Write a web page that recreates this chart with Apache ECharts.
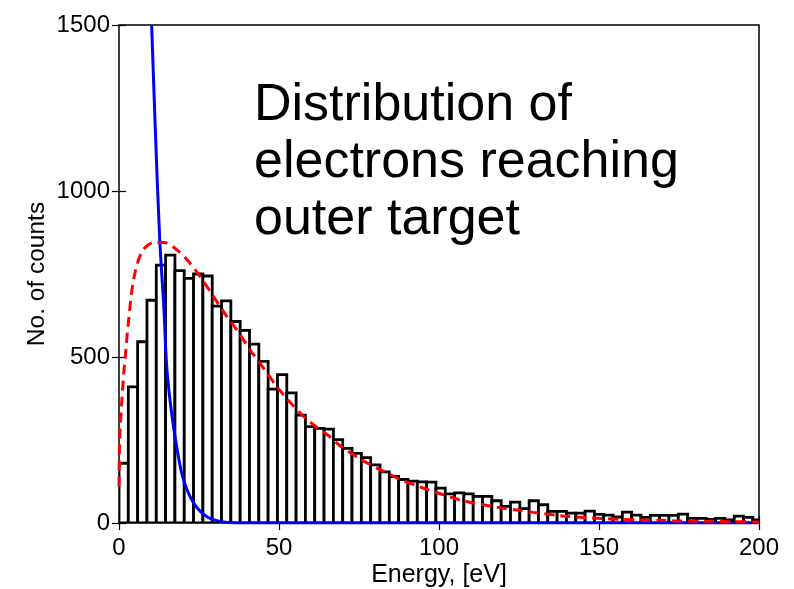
<!DOCTYPE html>
<html>
<head>
<meta charset="utf-8">
<script src="https://cdn.jsdelivr.net/npm/echarts@6/dist/echarts.min.js"></script>
<style>
  html, body { margin: 0; padding: 0; background: #fff; }
  #chart { width: 794px; height: 589px; }
</style>
</head>
<body>
<div id="chart"></div>
<script>
// Histogram: bins start at 0 eV, constant bin width
const binWidth = 2.913;
const counts = [
  180, 410, 546, 671, 777, 807, 760, 737, 750, 744,
  653, 669, 607, 580, 539, 487, 403, 447, 392, 325,
  290, 285, 283, 251, 225, 210, 197, 175, 154, 140,
  131, 126, 124, 123, 105, 88, 91, 88, 80, 80,
  67, 50, 63, 43, 67, 55, 35, 35, 30, 30,
  36, 26, 24, 18, 33, 24, 17, 23, 23, 23,
  27, 14, 14, 11, 14, 9, 21, 17, 9
];

// Red dashed fitted curve [energy, counts]
const fitCurve = [
  [0.0, 110], [0.2, 250], [0.8, 355], [1.6, 465], [2, 505], [3, 610], [4.6, 735],
  [7.2, 818], [10.9, 845], [14, 845], [18.2, 822], [21.8, 787], [25, 747],
  [28.6, 696], [32.7, 636], [36.9, 581], [41, 521], [45.2, 466], [49.4, 410],
  [53.6, 362], [57.8, 320], [62, 287], [65.6, 262], [69.2, 232], [75.5, 192],
  [81.7, 160], [88, 131], [94, 109], [97.3, 98], [103, 80], [108, 66],
  [118.5, 47], [124.3, 39], [129.5, 32], [137.8, 22], [146, 16], [152.3, 13],
  [157.5, 11], [162.7, 9], [170, 8], [176, 6], [185.5, 5], [192, 4], [200, 3]
];

// Blue curve [energy, counts]
const blueCurve = [
  [10.2, 1500], [11.3, 1200], [12.7, 860], [14, 651], [15, 460], [16.6, 320],
  [18.2, 220], [20.2, 129], [23.4, 59], [27.5, 19], [32.7, 3], [38, 0], [200, 0]
];

const xTicks = [0, 50, 100, 150, 200];
const yTicks = [0, 500, 1000, 1500];
const annotation = 'Distribution of\nelectrons reaching\nouter target';

const histData = counts.map((c, i) => [i * binWidth, (i + 1) * binWidth, c]);

const FONT = '"Liberation Sans", Arial, Helvetica, sans-serif';
const chart = echarts.init(document.getElementById('chart'), null, { renderer: 'canvas' });

chart.setOption({
  animation: false,
  backgroundColor: '#ffffff',
  textStyle: { fontFamily: FONT },
  grid: {
    left: 119, right: 35, top: 25, bottom: 66,
    outerBoundsMode: 'none', containLabel: false,
    show: true, borderColor: '#000', borderWidth: 1.5, backgroundColor: 'transparent'
  },
  xAxis: [{
    type: 'value', min: xTicks[0], max: xTicks[xTicks.length - 1], interval: 50,
    name: 'Energy, [eV]', nameLocation: 'middle', nameGap: 40, nameMoveOverlap: false,
    nameTextStyle: { fontSize: 25, color: '#000', fontFamily: FONT },
    axisLine: { show: false },
    axisTick: { show: true, inside: true, length: 7, lineStyle: { color: '#000', width: 1.2 } },
    axisLabel: { fontSize: 24, color: '#000', margin: 13, fontFamily: FONT },
    splitLine: { show: false }
  }, {
    type: 'value', position: 'top', min: 0, max: 200, interval: 50,
    axisLine: { show: false },
    axisTick: { show: true, inside: true, length: 7, lineStyle: { color: '#000', width: 1.2 } },
    axisLabel: { show: false }, splitLine: { show: false }
  }],
  yAxis: [{
    type: 'value', min: yTicks[0], max: yTicks[yTicks.length - 1], interval: 500,
    name: 'No. of counts', nameLocation: 'middle', nameGap: 69, nameMoveOverlap: false,
    nameTextStyle: { fontSize: 24.5, color: '#000', fontFamily: FONT },
    axisLine: { show: false },
    axisTick: { show: true, inside: true, length: 7, lineStyle: { color: '#000', width: 1.2 } },
    axisLabel: { fontSize: 24, color: '#000', margin: 9, fontFamily: FONT,
      formatter: function (v) { return String(v); } },
    splitLine: { show: false }
  }, {
    type: 'value', position: 'right', min: 0, max: 1500, interval: 500,
    axisLine: { show: false },
    axisTick: { show: true, inside: true, length: 7, lineStyle: { color: '#000', width: 1.2 } },
    axisLabel: { show: false }, splitLine: { show: false }
  }],
  graphic: [{
    type: 'text', left: 254, top: 77, z: 100,
    style: { text: annotation, font: '52px ' + FONT, lineHeight: 57, fill: '#000' }
  }],
  series: [{
    type: 'custom',
    data: histData,
    encode: { x: [0, 1], y: 2 },
    z: 2,
    clip: true,
    renderItem: function (params, api) {
      const p0 = api.coord([api.value(0), api.value(2)]);
      const p1 = api.coord([api.value(1), 0]);
      const cs = params.coordSys;
      const shape = echarts.graphic.clipRectByRect({
        x: p0[0], y: p0[1], width: p1[0] - p0[0], height: p1[1] - p0[1]
      }, { x: cs.x, y: cs.y, width: cs.width + 1, height: cs.height });
      if (!shape) return;
      return {
        type: 'rect', shape: shape,
        style: { fill: '#fff', stroke: '#000', lineWidth: 2.8 }
      };
    }
  }, {
    type: 'line', data: blueCurve, smooth: 0.4, symbol: 'none', z: 3,
    lineStyle: { color: '#0000ff', width: 3 }
  }, {
    type: 'line', data: fitCurve, smooth: 0.3, symbol: 'none', z: 4,
    lineStyle: { color: '#ff0000', width: 3, type: [10, 6] }
  }]
});
</script>
</body>
</html>
